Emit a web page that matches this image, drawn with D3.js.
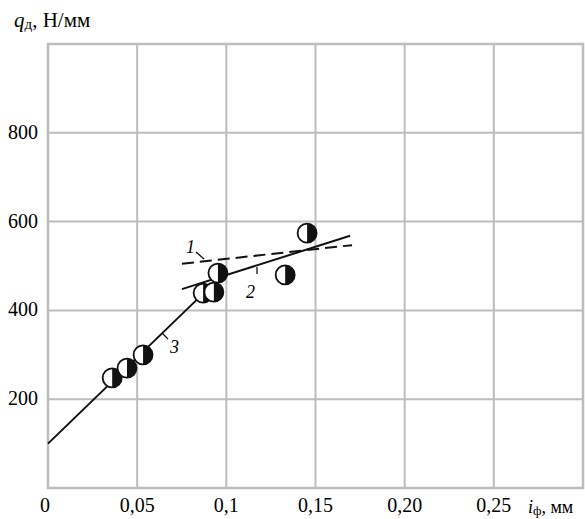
<!DOCTYPE html>
<html>
<head>
<meta charset="utf-8">
<script src="https://cdn.jsdelivr.net/npm/d3@7"></script>
<style>
  body { margin: 0; background: #fff; }
  text { font-family: "Liberation Serif", "Times New Roman", Times, "DejaVu Serif", serif; }
</style>
</head>
<body>
<svg id="chart" width="585" height="519"></svg>
<script>
// tick values and labels
const xTicks = [0, 0.05, 0.1, 0.15, 0.2, 0.25];
const xTickLabels = ["0", "0,05", "0,1", "0,15", "0,20", "0,25"];
const yTicks = [200, 400, 600, 800];

// measured points (i_ф, q_д)
const pointsX = [0.036, 0.0443, 0.0533, 0.087, 0.093, 0.0953, 0.133, 0.1453];
const pointsY = [248, 270, 300, 439, 441, 484, 480, 574];

// fitted lines: [x1, y1, x2, y2]
const line1 = [0.0751, 505, 0.1705, 547]; // dashed
const line2 = [0.0751, 448, 0.1694, 568];
const line3 = [0, 100, 0.0909, 453];

const svg = d3.select("#chart");
const serif = "'Liberation Serif', 'Times New Roman', 'DejaVu Serif', serif";

const x = d3.scaleLinear().domain([0, 0.3]).range([48, 583]);
const y = d3.scaleLinear().domain([0, 1000]).range([488, 44]);

const gridColor = "#bdbdbd";

// grid
svg.append("g")
  .selectAll("line")
  .data(xTicks.slice(1))
  .enter().append("line")
  .attr("x1", d => x(d)).attr("x2", d => x(d))
  .attr("y1", y(0)).attr("y2", y(1000))
  .attr("stroke", gridColor).attr("stroke-width", 2);

svg.append("g")
  .selectAll("line")
  .data(yTicks)
  .enter().append("line")
  .attr("x1", x(0)).attr("x2", x(0.3))
  .attr("y1", d => y(d)).attr("y2", d => y(d))
  .attr("stroke", gridColor).attr("stroke-width", 2);

// frame
svg.append("rect")
  .attr("x", x(0)).attr("y", y(1000))
  .attr("width", x(0.3) - x(0)).attr("height", y(0) - y(1000))
  .attr("fill", "none").attr("stroke", gridColor).attr("stroke-width", 2.5);

// tick labels
svg.append("g")
  .selectAll("text")
  .data(xTicks)
  .enter().append("text")
  .attr("font-family", serif)
  .attr("x", (d, i) => x(d) - (i === 0 ? 3 : 0))
  .attr("y", 512)
  .attr("text-anchor", "middle")
  .attr("font-size", 20)
  .text((d, i) => xTickLabels[i]);

svg.append("g")
  .selectAll("text")
  .data(yTicks)
  .enter().append("text")
  .attr("font-family", serif)
  .attr("x", 38)
  .attr("y", d => y(d) + 6)
  .attr("text-anchor", "end")
  .attr("font-size", 20)
  .text(d => d);

// axis titles
const yt = svg.append("text").attr("font-family", serif).attr("x", 14).attr("y", 27).attr("font-size", 21);
yt.append("tspan").attr("font-style", "italic").text("q");
yt.append("tspan").attr("font-size", 15).attr("dy", 2).text("д");
yt.append("tspan").attr("dy", -2).text(", Н/мм");

const xt = svg.append("text").attr("font-family", serif).attr("x", 528).attr("y", 513).attr("font-size", 18);
xt.append("tspan").attr("font-style", "italic").text("i");
xt.append("tspan").attr("font-size", 13).attr("dy", 2).text("ф");
xt.append("tspan").attr("dy", -2).text(", мм");

// fitted lines
function drawSeg(s, dash) {
  svg.append("line")
    .attr("x1", x(s[0])).attr("y1", y(s[1]))
    .attr("x2", x(s[2])).attr("y2", y(s[3]))
    .attr("stroke", "#111").attr("stroke-width", 2)
    .attr("stroke-dasharray", dash || null);
}
drawSeg(line3);
drawSeg(line2);
drawSeg(line1, "12,6");

// points: half-filled circles
const r = 9.5;
const half = d3.arc().innerRadius(0).outerRadius(r).startAngle(0).endAngle(Math.PI);
const pts = svg.append("g")
  .selectAll("g")
  .data(pointsX.map((d, i) => [d, pointsY[i]]))
  .enter().append("g")
  .attr("transform", d => `translate(${x(d[0])},${y(d[1])})`);
pts.append("circle").attr("r", r).attr("fill", "#fff");
pts.append("path").attr("d", half()).attr("fill", "#111");
pts.append("circle").attr("r", r).attr("fill", "none").attr("stroke", "#111").attr("stroke-width", 1.8);

// curve labels with leaders
const labels = [
  { t: "1", lx: 186, ly: 253, l: [196, 252, 204, 259] },
  { t: "2", lx: 246, ly: 298, l: [257, 267, 257, 274] },
  { t: "3", lx: 170, ly: 353, l: [162, 333, 168, 339] }
];
labels.forEach(d => {
  svg.append("text").attr("font-family", serif).attr("x", d.lx).attr("y", d.ly)
    .attr("font-size", 18).attr("font-style", "italic").text(d.t);
  svg.append("line")
    .attr("x1", d.l[0]).attr("y1", d.l[1]).attr("x2", d.l[2]).attr("y2", d.l[3])
    .attr("stroke", "#111").attr("stroke-width", 1.3);
});
</script>
</body>
</html>
